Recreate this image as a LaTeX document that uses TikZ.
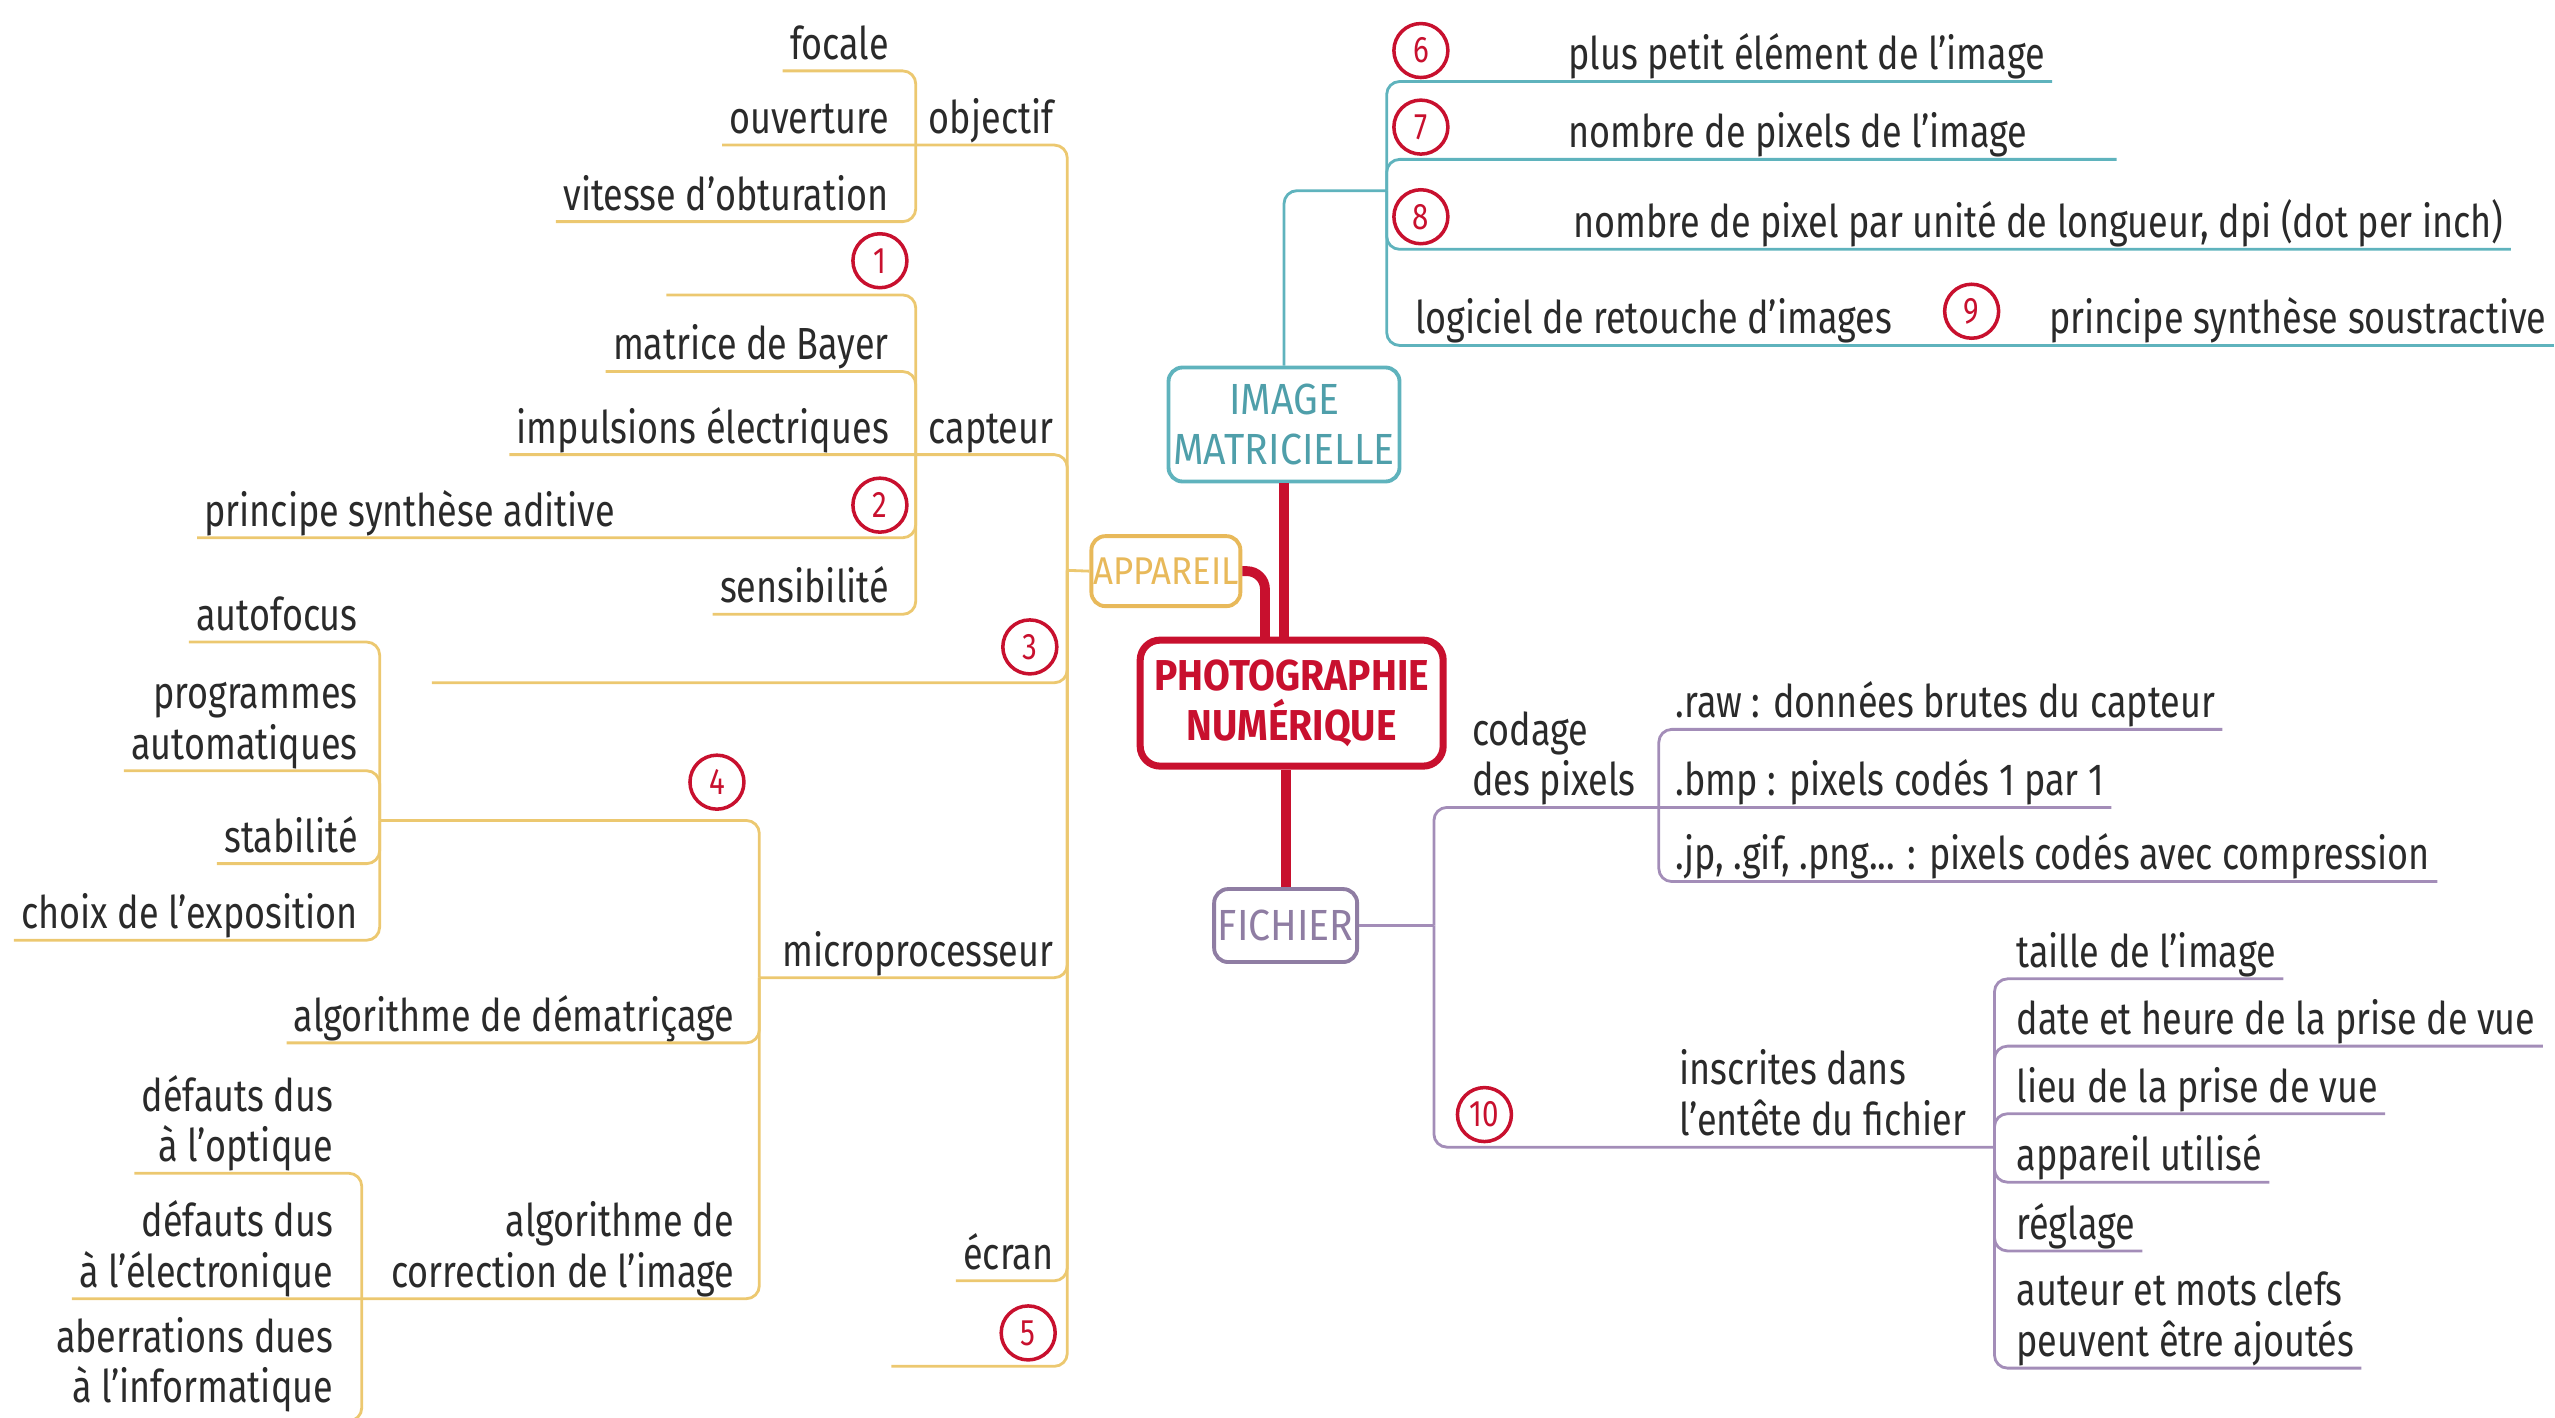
\documentclass[tikz,border=0pt]{standalone}
\usepackage{fontspec}
\setmainfont{Fira Sans}[FakeStretch=0.8]
\newfontfamily\boxfont{Fira Sans}[FakeStretch=0.9]

\definecolor{photored}{HTML}{C8102E}
\definecolor{imgteal}{HTML}{5FB3BD}
\definecolor{imgtext}{HTML}{4F9FAA}
\definecolor{appyel}{HTML}{ECC870}
\definecolor{appbox}{HTML}{E8B95A}
\definecolor{filepurp}{HTML}{A38DB8}
\definecolor{filebox}{HTML}{8F7DA3}
\definecolor{ink}{HTML}{2A2A2A}

\newcommand{\lf}{\fontsize{12.8}{14.4}\selectfont}

\begin{document}
\begin{tikzpicture}[x=0.16295mm, y=-0.16295mm,
    lbl/.style={inner xsep=1.9pt, inner ysep=0pt, text depth=3.1pt, text=ink, font=\lf},
    lblr/.style={lbl, anchor=south east, align=right},
    lbll/.style={lbl, anchor=south west, align=left},
    num/.style={circle, draw=photored, line width=1pt, fill=white, inner sep=0pt,
      minimum size=5.4mm, text=photored, font=\fontsize{10.5}{12}\selectfont},
    topic/.style={draw=#1, rounded corners=1.4mm, line width=1.1pt, fill=white,
      inner sep=0pt, align=center},
    yline/.style={draw=appyel, line width=0.8pt, rounded corners=1.3mm},
    tline/.style={draw=imgteal, line width=0.8pt, rounded corners=1.3mm},
    pline/.style={draw=filepurp, line width=0.8pt, rounded corners=1.3mm},
    redlink/.style={draw=photored, line width=2.8pt, rounded corners=1.8mm}]
  \useasboundingbox (0,0) rectangle (1568,870);

  % main topics
  \node[topic=photored, line width=2pt, rounded corners=2mm, minimum width=30.3mm,
    minimum height=12.6mm, text=photored, font=\boxfont\bfseries\fontsize{12.3}{14.2}\selectfont]
    (photo) at (792.7,431.5) {PHOTOGRAPHIE\\NUMÉRIQUE};
  \node[topic=imgteal, minimum width=23.1mm, minimum height=11.4mm, text=imgtext,
    font=\boxfont\fontsize{12.4}{14.3}\selectfont] (img) at (788,260.5) {IMAGE\\MATRICIELLE};
  \node[topic=appbox, minimum width=14.9mm, minimum height=7mm, text=appbox,
    font=\boxfont\fontsize{11}{13}\selectfont] (app) at (715.5,350.5) {APPAREIL};
  \node[topic=filebox, minimum width=14.3mm, minimum height=7.3mm, text=filebox,
    font=\boxfont\fontsize{12.4}{13}\selectfont] (fich) at (789,568) {FICHIER};

  \coordinate (appfoot) at (776.3,393);
  \draw[redlink] (img.south) -- (img.south |- photo.north);
  \draw[redlink] (fich.north) -- (fich.north |- photo.south);
  \draw[redlink] (app.east) -| (appfoot);

  % APPAREIL
  \coordinate (appj) at (655,350);
  \coordinate (objj) at (562,89);
  \coordinate (capj) at (562,279);
  \coordinate (mj) at (466,600);
  \coordinate (autoj) at (233,503.5);
  \coordinate (corrj) at (222,797);
  \coordinate (l1) at (409,181);
  \coordinate (l3) at (265,419);
  \coordinate (l5) at (547,838.5);

  \node[lblr] (objectif) at (651,89) {objectif};
  \node[lblr] (capteur) at (651,279) {capteur};
  \node[lblr] (micro) at (651,600) {microprocesseur};
  \node[lblr] (ecran) at (651,786) {écran};

  \node[lblr] (focale) at (550,43.5) {focale};
  \node[lblr] (ouverture) at (550,89) {ouverture};
  \node[lblr] (vitesse) at (550,136) {vitesse d’obturation};

  \node[lblr] (bayer) at (550,228) {matrice de Bayer};
  \node[lblr] (impulsions) at (550,279) {impulsions électriques};
  \node[lblr] (aditive) at (382,330) {principe synthèse aditive};
  \node[lblr] (sensib) at (550,377) {sensibilité};

  \node[lblr] (demat) at (455,640) {algorithme de dématriçage};
  \node[lblr] (correct) at (455,797) {algorithme de\\correction de l’image};

  \node[lblr] (autofocus) at (224,394) {autofocus};
  \node[lblr] (progauto) at (224,473) {programmes\\automatiques};
  \node[lblr] (stab) at (224,530) {stabilité};
  \node[lblr] (expo) at (224,577) {choix de l’exposition};

  \node[lblr] (optique) at (209,720) {défauts dus\\à l’optique};
  \node[lblr] (elec) at (209,797) {défauts dus\\à l’électronique};
  \node[lblr, text depth=5pt] (aberr) at (209,872) {aberrations dues\\à l’informatique};

  \draw[yline] (app.west) -- (appj);
  \foreach \a in {ouverture.south west,impulsions.south west,l3,mj,ecran.south west,l5}
    \draw[yline] (\a) -| (appj);
  \foreach \a in {focale,vitesse}
    \draw[yline] (\a.south west) -| (objj);
  \foreach \a in {bayer.south west,aditive.south west,sensib.south west,l1}
    \draw[yline] (\a) -| (capj);
  \foreach \a in {autoj,demat.south west,elec.south west}
    \draw[yline] (\a) -| (mj);
  \foreach \a in {autofocus,progauto,stab,expo}
    \draw[yline] (\a.south west) -| (autoj);
  \foreach \a in {optique,aberr}
    \draw[yline] (\a.south west) -| (corrj);

  % IMAGE MATRICIELLE
  \coordinate (imgj) at (851,117);
  \coordinate (u7) at (1299,97.8);
  \node[lbll] (petit) at (958,50) {plus petit élément de l’image};
  \node[lbll] (nbpix) at (958,97.8) {nombre de pixels de l’image};
  \node[lbll] (dpi) at (961,153) {nombre de pixel par unité de longueur, dpi (dot per inch)};
  \node[lbll] (retouche) at (864,212) {logiciel de retouche d’images};
  \node[lbll] (soustr) at (1253,212) {principe synthèse soustractive};

  \draw[tline] (img.north) |- (imgj);
  \foreach \a in {petit.south east,u7,dpi.south east,soustr.south east}
    \draw[tline] (\a) -| (imgj);

  % FICHIER
  \coordinate (fichj) at (880,568);
  \coordinate (codj) at (1018,495.5);
  \coordinate (entj) at (1224,704);
  \node[lbll] (codage) at (899,495.5) {codage\\des pixels};
  \node[lbll] (raw) at (1024,447.6) {.raw : données brutes du capteur};
  \node[lbll] (bmp) at (1024,495.5) {.bmp : pixels codés 1 par 1};
  \node[lbll] (jpg) at (1024,541) {.jp, .gif, .png... : pixels codés avec compression};
  \node[lbll] (entete) at (1026,704) {inscrites dans\\l’entête du fichier};
  \node[lbll] (taille) at (1233,600.7) {taille de l’image};
  \node[lbll] (date) at (1233,642) {date et heure de la prise de vue};
  \node[lbll] (lieu) at (1233,683.5) {lieu de la prise de vue};
  \node[lbll] (appareil) at (1233,725.5) {appareil utilisé};
  \node[lbll] (reglage) at (1233,767.7) {réglage};
  \node[lbll] (auteur) at (1233,839.6) {auteur et mots clefs\\peuvent être ajoutés};

  \draw[pline] (fich.east) -- (fichj);
  \foreach \a in {bmp.south east,entj}
    \draw[pline] (\a) -| (fichj);
  \foreach \a in {raw,jpg}
    \draw[pline] (\a.south east) -| (codj);
  \foreach \a in {taille,date,lieu,appareil,reglage,auteur}
    \draw[pline] (\a.south east) -| (entj);

  % numbered blanks
  \node[num] (n1) at (540,160) {1};
  \node[num] (n2) at (540,310) {2};
  \node[num] (n3) at (632,397) {3};
  \node[num] (n4) at (440,480) {4};
  \node[num] (n5) at (631,818) {5};
  \node[num] (n6) at (872,31) {6};
  \node[num] (n7) at (872,78) {7};
  \node[num] (n8) at (872,133) {8};
  \node[num] (n9) at (1210,191) {9};
  \node[num] (n10) at (911,684) {10};
\end{tikzpicture}
\end{document}
